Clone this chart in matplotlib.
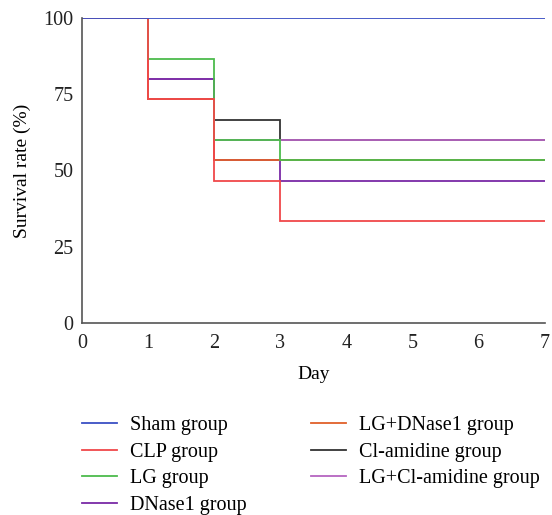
import matplotlib.pyplot as plt

plt.rcParams["font.family"] = ["Liberation Serif", "DejaVu Serif"]

# survival (%) at the start of each day, step plot
days = [0, 1, 2, 3, 4, 5, 6, 7]
sham = [100, 100, 100, 100, 100, 100, 100, 100]
clp = [100, 73.3, 46.7, 33.3, 33.3, 33.3, 33.3, 33.3]
lg = [100, 86.7, 60, 53.3, 53.3, 53.3, 53.3, 53.3]
dnase1 = [100, 80, 53.3, 46.7, 46.7, 46.7, 46.7, 46.7]
lg_dnase1 = [100, 73.3, 53.3, 53.3, 53.3, 53.3, 53.3, 53.3]
cl_amidine = [100, 73.3, 66.7, 60, 60, 60, 60, 60]
lg_cl_amidine = [100, 80, 60, 60, 60, 60, 60, 60]

labels = ["Sham group", "CLP group", "LG group", "DNase1 group",
          "LG+DNase1 group", "Cl-amidine group", "LG+Cl-amidine group"]
series = [sham, clp, lg, dnase1, lg_dnase1, cl_amidine, lg_cl_amidine]
colors = ["#3a4fc4", "#f0484a", "#4cbb4c", "#7a2aa6",
          "#e0602a", "#333333", "#b565c0"]
# drawing order (bottom to top) so the overlaps look like the original
order = [5, 6, 3, 4, 2, 1, 0]

fig = plt.figure(figsize=(5.52, 5.15), dpi=100)
ax = fig.add_axes([0.1486, 0.373, 0.838, 0.592])

handles = [None] * len(series)
for i in order:
    h, = ax.step(days, series[i], where="post", color=colors[i], lw=1.3,
                 label=labels[i], solid_joinstyle="miter")
    handles[i] = h

ax.set_xlim(0, 7)
ax.set_ylim(0, 100)
ax.set_xticks(range(8))
ax.set_yticks([0, 25, 50, 75, 100])
ax.tick_params(axis="y", length=0, labelsize=14.5, colors="#222222", pad=6)
ax.tick_params(axis="x", length=0, labelsize=14.5, colors="#222222", pad=8)
for s in ["top", "right"]:
    ax.spines[s].set_visible(False)
for s in ["left", "bottom"]:
    ax.spines[s].set_color("#555555")
    ax.spines[s].set_linewidth(1.2)
ax.set_xlabel("Day", fontsize=14, labelpad=9)
ax.set_ylabel("Survival rate (%)", fontsize=14, labelpad=9)

fig.legend(handles, labels, ncol=2, loc="upper left",
           bbox_to_anchor=(0.1486, 0.192), bbox_transform=fig.transFigure,
           frameon=False, fontsize=14.5, handlelength=1.74, handletextpad=0.65,
           columnspacing=3.2, labelspacing=0.37, borderpad=0, borderaxespad=0)

fig.savefig("out.png", dpi=100)
